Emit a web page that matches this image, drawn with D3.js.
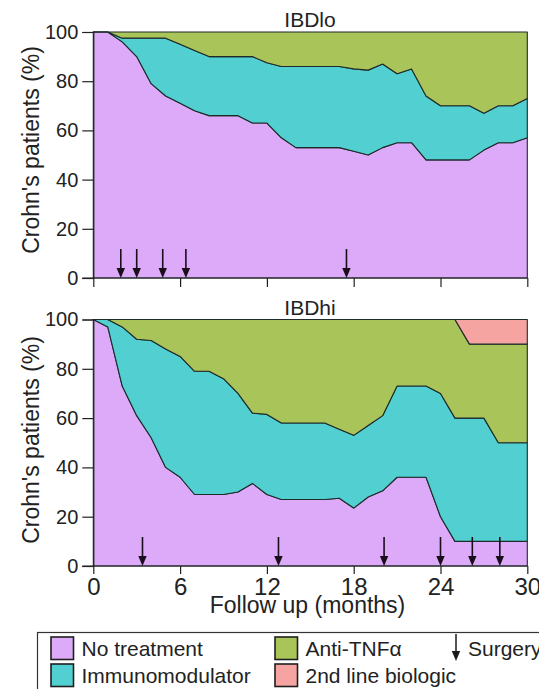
<!DOCTYPE html>
<html>
<head>
<meta charset="utf-8">
<script src="https://cdn.jsdelivr.net/npm/d3@7"></script>
<style>
  html, body { margin: 0; padding: 0; background: #fff; }
  svg { display: block; font-family: "Liberation Sans", Arial, sans-serif; }
</style>
</head>
<body>
<svg id="chart" width="539" height="689"></svg>
<script>
// Follow-up months (monthly samples)
const months = d3.range(0, 31);
const xTicks = [0, 6, 12, 18, 24, 30];
const yTicks = [0, 20, 40, 60, 80, 100];

const treatments = ["No treatment", "Immunomodulator", "Anti-TNFα", "2nd line biologic"];
const colors = ["#dcaaf8", "#52cfd1", "#a9c55a", "#f5a4a2"];

// IBDlo: share of patients (%) on each treatment, month 0..30
const loNone     = [100,100,96,90,79,74,71,68,66,66,66,63,63,57,53,53,53,53,51.5,50,53,55,55,48,48,48,48,52,55,55,57];
const loImmuno   = [0,0,1.5,7.5,18.5,23.5,24,24.5,24,24,24,27,24.5,29,33,33,33,33,33.5,34.5,34,28,30,26,22,22,22,15,15,15,16];
const loAntiTNF  = [0,0,2.5,2.5,2.5,2.5,5,7.5,10,10,10,10,12.5,14,14,14,14,14,15,15.5,13,17,15,26,30,30,30,33,30,30,27];
const loSecond   = [0,0,0,0,0,0,0,0,0,0,0,0,0,0,0,0,0,0,0,0,0,0,0,0,0,0,0,0,0,0,0];
const loSurgery  = [1.9, 3.0, 4.8, 6.4, 17.5];

// IBDhi: share of patients (%) on each treatment, month 0..30
const hiNone     = [100,97,73,61,52,40,36,29,29,29,30,33.5,29,27,27,27,27,27.5,23.5,28,30.5,36,36,36,20,10,10,10,10,10,10];
const hiImmuno   = [0,3,24,31,39.5,48,49,50,50,47,40,28.5,32.5,31,31,31,31,28,29.5,29,30.5,37,37,37,50,50,50,50,40,40,40];
const hiAntiTNF  = [0,0,3,8,8.5,12,15,21,21,24,30,38,38.5,42,42,42,42,44.5,47,43,39,27,27,27,30,40,30,30,40,40,40];
const hiSecond   = [0,0,0,0,0,0,0,0,0,0,0,0,0,0,0,0,0,0,0,0,0,0,0,0,0,0,10,10,10,10,10];
const hiSurgery  = [3.4, 12.8, 20.1, 24.0, 26.2, 28.1];

const svg = d3.select("#chart");
const left = 93.3, right = 527.3;
const x = d3.scaleLinear().domain([0, 30]).range([left, right]);

const panels = [
  { title: "IBDlo", top: 32, bottom: 278, layers: [loNone, loImmuno, loAntiTNF, loSecond],
    surgery: loSurgery, labels: false, titleY: 27, yTitleY: 150 },
  { title: "IBDhi", top: 319.5, bottom: 566, layers: [hiNone, hiImmuno, hiAntiTNF, hiSecond],
    surgery: hiSurgery, labels: true, titleY: 315, yTitleY: 440 }
];

const ink = "#222";

panels.forEach(p => {
  const y = d3.scaleLinear().domain([0, 100]).range([p.bottom, p.top]);
  const g = svg.append("g");

  const rows = months.map((m, i) => {
    const r = { month: m };
    treatments.forEach((t, k) => r[t] = p.layers[k][i]);
    return r;
  });
  const series = d3.stack().keys(treatments)(rows);

  const area = d3.area()
    .x(d => x(d.data.month))
    .y0(d => y(d[0]))
    .y1(d => y(d[1]));

  g.selectAll("path.layer")
    .data(series.filter(s => s.some(d => d[1] - d[0] > 0)))
    .join("path")
    .attr("class", "layer")
    .attr("d", area)
    .attr("fill", s => colors[treatments.indexOf(s.key)])
    .attr("stroke", "#1e2b2b")
    .attr("stroke-width", 1.1)
    .attr("stroke-linejoin", "round");

  // surgery events
  p.surgery.forEach(m => {
    const ax = x(m), ay = y(0);
    g.append("line")
      .attr("x1", ax).attr("x2", ax)
      .attr("y1", ay - 29).attr("y2", ay - 8)
      .attr("stroke", "#1a0d1c").attr("stroke-width", 1.6);
    g.append("path")
      .attr("d", `M${ax - 4.2},${ay - 10}L${ax + 4.2},${ay - 10}L${ax},${ay}Z`)
      .attr("fill", "#1a0d1c");
  });

  // axes
  const yAxis = g.append("g")
    .attr("transform", `translate(${left},0)`)
    .call(d3.axisLeft(y).tickValues(yTicks).tickSize(11).tickPadding(4));
  yAxis.selectAll("text").attr("font-size", 20).attr("fill", ink)
    .attr("font-family", "Liberation Sans, Arial, sans-serif");

  const xAxis = g.append("g")
    .attr("transform", `translate(0,${p.bottom})`)
    .call(d3.axisBottom(x).tickValues(xTicks).tickSize(p.labels ? 8 : 9).tickPadding(4)
      .tickFormat(p.labels ? d3.format("d") : () => ""));
  xAxis.selectAll("text").attr("font-size", 24).attr("fill", ink)
    .attr("font-family", "Liberation Sans, Arial, sans-serif");

  [yAxis, xAxis].forEach(a => {
    a.select(".domain").attr("stroke", ink).attr("stroke-width", 1.2);
    a.selectAll(".tick line").attr("stroke", ink).attr("stroke-width", 1.2);
  });
  xAxis.select(".domain").attr("d", `M${left - 11},0H${right}`);

  // titles
  svg.append("text")
    .attr("x", 310).attr("y", p.titleY)
    .attr("text-anchor", "middle")
    .attr("font-size", 21).attr("fill", ink)
    .text(p.title);

  svg.append("text")
    .attr("transform", `translate(39,${p.yTitleY}) rotate(-90)`)
    .attr("text-anchor", "middle")
    .attr("font-size", 23).attr("fill", ink)
    .text("Crohn's patients (%)");
});

svg.append("text")
  .attr("x", 307.5).attr("y", 613)
  .attr("text-anchor", "middle")
  .attr("font-size", 23).attr("fill", ink)
  .text("Follow up (months)");

// legend
const legend = svg.append("g");
legend.append("rect")
  .attr("x", 37.5).attr("y", 632.5).attr("width", 600).attr("height", 100)
  .attr("fill", "#fff").attr("stroke", "#333").attr("stroke-width", 1.2);

const legendItems = [
  { k: 0, x: 51, y: 637 },
  { k: 1, x: 51, y: 664 },
  { k: 2, x: 275, y: 637 },
  { k: 3, x: 275, y: 664 }
];
legendItems.forEach(it => {
  legend.append("rect")
    .attr("x", it.x).attr("y", it.y).attr("width", 22.5).attr("height", 22.5)
    .attr("fill", colors[it.k]).attr("stroke", "#1e1e1e").attr("stroke-width", 1.6);
  legend.append("text")
    .attr("x", it.x + 30.5).attr("y", it.y + 19)
    .attr("font-size", 21).attr("fill", ink)
    .text(treatments[it.k]);
});

legend.append("line")
  .attr("x1", 456).attr("x2", 456).attr("y1", 634).attr("y2", 652)
  .attr("stroke", "#1a1a1a").attr("stroke-width", 1.5);
legend.append("path")
  .attr("d", "M451.8,651L460.2,651L456,661Z")
  .attr("fill", "#1a1a1a");
legend.append("text")
  .attr("x", 468).attr("y", 656)
  .attr("font-size", 21).attr("fill", ink)
  .text("Surgery");
</script>
</body>
</html>
